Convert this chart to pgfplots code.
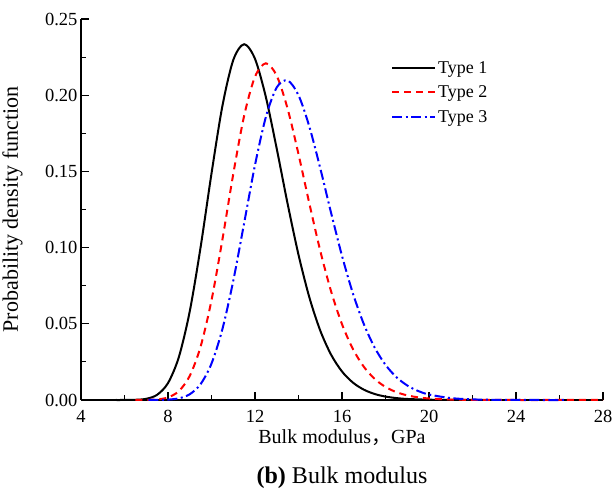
\documentclass[border=0pt]{standalone}
\usepackage{pgfplots}
\pgfplotsset{compat=1.18}
\usepackage{fontspec}
\setmainfont{Liberation Serif}
\newfontfamily\cjk{Noto Sans CJK SC}
\begin{document}
\begin{tikzpicture}
\begin{axis}[
  name=ax,
  scale only axis, width=522pt, height=381pt,
  xmin=4, xmax=28, ymin=0, ymax=0.25,
  axis lines*=left,
  axis line style={line width=1.2pt},
  tick align=inside,
  major tick length=8pt, minor tick length=4.5pt,
  every tick/.style={line width=1.1pt, black},
  xtick={4,8,12,16,20,24,28}, minor x tick num=1,
  ytick={0,0.05,0.10,0.15,0.20,0.25}, minor y tick num=1,
  yticklabel style={/pgf/number format/.cd, fixed, fixed zerofill, precision=2},
  xticklabel style={inner sep=0pt, yshift=-10pt},
  /pgf/number format/assume math mode=true,
  ticklabel style={font=\fontsize{18.5}{20}\selectfont},
  clip=false,
  legend style={draw=none, fill=none, at={(0.588,0.9)}, anchor=north west,
    font=\fontsize{18}{21}\selectfont, row sep=7pt},
  legend cell align=left,
  legend image code/.code={\draw[#1] (0pt,0pt) -- (43pt,0pt);},
]
\addplot[black, line width=2pt, smooth] coordinates {
(5.6,0) (6,0.00001) (6.5,0.00013) (7,0.00078) (7.5,0.00341) (8,0.01110) (8.5,0.02821)
(9,0.05817) (9.5,0.10038) (10,0.14863) (10.5,0.19283) (11,0.22306) (11.5,0.23347)
(12,0.22386) (12.5,0.19873) (13,0.16483) (13.5,0.12874) (14,0.09531) (14.5,0.06730)
(15,0.04555) (15.5,0.02968) (16,0.01870) (16.5,0.01144) (17,0.00680) (17.5,0.00395)
(18,0.00224) (18.5,0.00125) (19,0.00068) (20,0.00020) (21,0.00005) (22,0)
};
\addlegendentry{Type 1}
\addplot[red, line width=2pt, dash pattern=on 7pt off 5pt, smooth] coordinates {
(6.5,0) (7,0.00006) (7.5,0.00038) (8,0.00170) (8.5,0.00583) (9,0.01581) (9.5,0.03507)
(10,0.06545) (10.5,0.10514) (11,0.14824) (11.5,0.18646) (12,0.21214) (12.5,0.22093)
(13,0.21274) (13.5,0.19109) (14,0.16132) (14.5,0.12886) (15,0.09794) (15.5,0.07121)
(16,0.04974) (16.5,0.03352) (17,0.02187) (17.5,0.01385) (18,0.00855) (18.5,0.00515)
(19,0.00303) (19.5,0.00175) (20,0.00099) (21,0.00031) (22,0.00009) (23,0.00002)
(24,0) (26,0) (28,0)
};
\addlegendentry{Type 2}
\addplot[blue, line width=2pt, dash pattern=on 10pt off 3.5pt on 2pt off 3.5pt, smooth] coordinates {
(7.1,0) (7.5,0.00004) (8,0.00025) (8.5,0.00110) (9,0.00377) (9.5,0.01044) (10,0.02391)
(10.5,0.04644) (11,0.07817) (11.5,0.11602) (12,0.15418) (12.5,0.18573) (13,0.20513)
(13.5,0.20968) (14,0.20000) (14.5,0.17931) (15,0.15207) (15.5,0.12267) (16,0.09458)
(16.5,0.07001) (17,0.04994) (17.5,0.03445) (18,0.02306) (18.5,0.01501) (19,0.00953)
(19.5,0.00591) (20,0.00359) (21,0.00126) (22,0.00041) (23,0.00013) (24,0.00004)
(25,0) (26.2,0)
};
\addlegendentry{Type 3}
\end{axis}
\node[rotate=90, font=\fontsize{22}{26}\selectfont] at ([xshift=-68.5pt]ax.west) {Probability density function};
\node[inner sep=0pt, font=\fontsize{20}{24}\selectfont] at ([yshift=-38pt]ax.south) {Bulk modulus{\cjk ，}GPa};
\node[font=\fontsize{24}{28}\selectfont] at ([yshift=-78pt]ax.south) {\textbf{(b)} Bulk modulus};
\pgfresetboundingbox
\path[use as bounding box] ([shift={(-81pt,-97pt)}]ax.south west) rectangle ([shift={(9pt,19pt)}]ax.north east);
\end{tikzpicture}
\end{document}
